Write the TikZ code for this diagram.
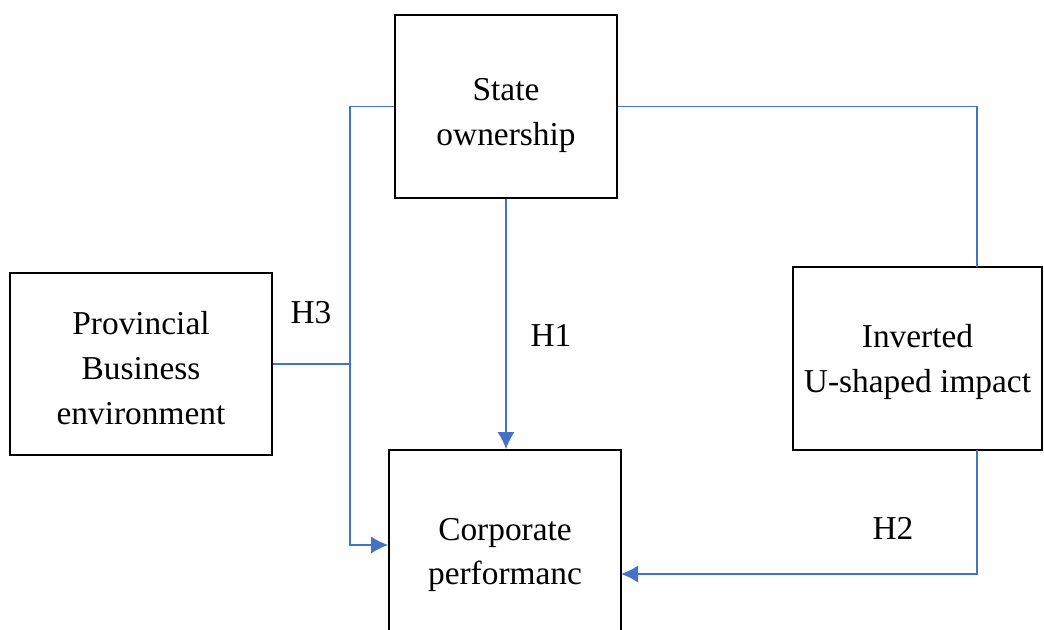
\documentclass[tikz,border=0pt]{standalone}
\usepackage{fontspec}
\setmainfont{Liberation Serif}
\usetikzlibrary{arrows.meta}
\definecolor{linkblue}{HTML}{4472C4}

\begin{document}
\begin{tikzpicture}[x=0.02cm,y=-0.02cm,
   every node/.style={font=\fontsize{19}{25.6}\selectfont},
   block/.style={draw,rectangle,line width=1.1pt,align=center,inner sep=0pt},
   link/.style={draw=linkblue,line width=0.7pt},
   tip/.style={-{Latex[length=0.34cm,width=0.34cm]}}]

\useasboundingbox (0,0) rectangle (1044,629);

\node[block,minimum width=4.44cm,minimum height=3.66cm,
  label={[align=center,yshift=-0.18cm]center:State\\ownership}] (state) at (506,106.5) {};
\node[block,minimum width=5.24cm,minimum height=3.64cm,
  label={[align=center,yshift=-0.08cm]center:Provincial\\Business\\environment}] (prov) at (141,364) {};
\node[block,minimum width=4.98cm,minimum height=3.66cm,
  label={[align=center,yshift=-0.06cm]center:Inverted\\U-shaped impact}] (inv) at (917.5,358.5) {};
\node[block,minimum width=4.64cm,minimum height=3.8cm,
  label={[align=center,yshift=-0.2cm]center:Corporate\\performanc}] (corp) at (505,545) {};

\coordinate (bus) at (350,364);
\coordinate (invtop) at (977,267);
\coordinate (invbot) at (977,450);
\coordinate (corpr) at (621,574);

% H3
\draw[link,tip] (state.west) -| (bus) |- (corp.west);
\draw[link] (prov.east) -- (bus);
% H1
\draw[link,tip] (state.south) -- (state.south |- corp.north);
% H2
\draw[link] (state.east) -| (invtop);
\draw[link,tip] (invbot) |- (corpr);

\node (h3) at (311,313) {H3};
\node (h1) at (551,335) {H1};
\node (h2) at (893,528) {H2};

\end{tikzpicture}
\end{document}
